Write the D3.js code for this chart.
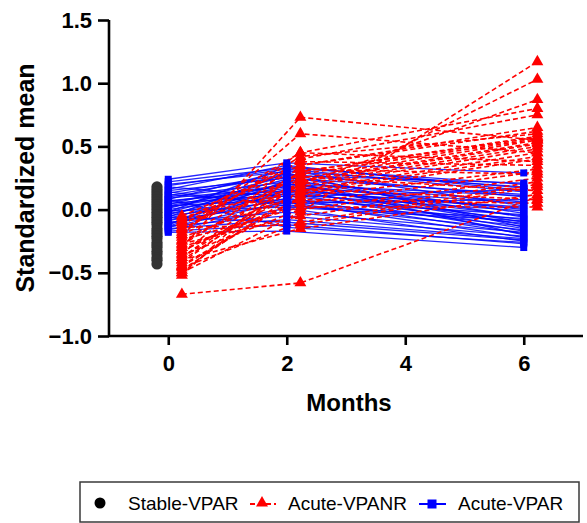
<!DOCTYPE html>
<html><head><meta charset="utf-8">
<script src="https://cdn.jsdelivr.net/npm/d3@7"></script>
<style>body{margin:0;background:#fff}svg{display:block}text{font-family:Arial,"Liberation Sans",sans-serif}</style>
</head><body><div id="chart"></div>
<script>
// ---------- data ----------
const months = [0, 2, 6];
const xTicks = [0, 2, 4, 6];
const yTicks = [-1.0, -0.5, 0.0, 0.5, 1.0, 1.5];
const seriesNames = ["Stable-VPAR", "Acute-VPANR", "Acute-VPAR"];

// Stable-VPAR: single time point (month 0)
const stableVPAR = [0.18, 0.16, 0.14, 0.12, 0.10, 0.08, 0.06, 0.04, 0.02, 0.00, -0.02, -0.04, -0.06,
  -0.08, -0.10, -0.12, -0.15, -0.17, -0.19, -0.21, -0.23, -0.26, -0.28, -0.30, -0.33, -0.35, -0.38, -0.40, -0.43];

// Acute-VPANR subjects: values at months 0, 2, 6
const acuteVPANR = [
  [-0.67, -0.58, 0.10], [-0.50, -0.02, 1.17], [-0.45, 0.10, 1.03], [-0.40, 0.20, 0.87],
  [-0.30, 0.73, 0.55], [-0.20, 0.60, 0.45], [-0.10, 0.45, 0.80], [-0.35, 0.40, 0.75],
  [-0.52, 0.35, 0.65], [-0.28, 0.30, 0.58], [-0.15, 0.28, 0.56], [-0.42, 0.25, 0.55],
  [-0.38, 0.22, 0.52], [-0.25, 0.20, 0.50], [-0.06, 0.18, 0.48], [-0.48, 0.15, 0.45],
  [-0.33, 0.14, 0.42], [-0.22, 0.12, 0.40], [-0.18, 0.45, 0.38], [-0.12, 0.38, 0.35],
  [-0.44, 0.10, 0.32], [-0.30, 0.05, 0.30], [-0.08, 0.32, 0.28], [-0.36, 0.00, 0.25],
  [-0.27, -0.05, 0.22], [-0.46, -0.10, 0.20], [-0.14, -0.12, 0.18], [-0.20, 0.26, 0.15],
  [-0.40, -0.15, 0.12], [-0.10, 0.16, 0.08], [-0.32, 0.08, 0.05], [-0.24, 0.02, 0.02],
  [-0.16, 0.42, 0.60], [-0.05, 0.35, 0.62], [-0.38, 0.30, 0.57], [-0.50, 0.23, 0.53]
];

// Acute-VPAR subjects: values at months 0, 2, 6
const acuteVPAR = [
  [0.24, 0.37, 0.29], [0.22, 0.33, 0.20], [0.20, 0.30, 0.18], [0.18, 0.10, 0.16],
  [0.16, 0.35, 0.15], [0.15, 0.25, 0.12], [0.13, 0.28, 0.10], [0.12, 0.05, 0.08],
  [0.10, 0.22, 0.06], [0.09, 0.18, 0.05], [0.08, 0.31, 0.03], [0.07, 0.15, 0.02],
  [0.06, 0.20, 0.00], [0.05, 0.12, -0.01], [0.04, 0.26, -0.03], [0.03, 0.08, -0.04],
  [0.02, 0.17, -0.05], [0.01, 0.24, -0.06], [0.00, 0.14, -0.08], [-0.01, 0.02, -0.09],
  [-0.02, 0.21, -0.10], [-0.03, 0.11, -0.11], [-0.04, 0.19, -0.12], [-0.05, 0.07, -0.13],
  [-0.06, 0.29, -0.14], [-0.07, 0.16, -0.15], [-0.08, 0.04, -0.16], [-0.09, 0.13, -0.17],
  [-0.10, -0.02, -0.18], [-0.11, 0.09, -0.19], [-0.12, 0.23, -0.20], [-0.13, -0.05, -0.21],
  [-0.14, 0.06, -0.22], [-0.15, -0.08, -0.23], [-0.16, 0.01, -0.25], [-0.17, -0.12, -0.27],
  [-0.18, -0.17, -0.30], [0.11, 0.27, 0.21], [0.19, 0.32, 0.14], [-0.02, 0.34, 0.17],
  [0.14, 0.03, -0.07], [-0.06, -0.10, -0.24], [0.03, 0.20, 0.11], [0.08, -0.14, -0.26],
  [-0.13, 0.15, 0.01]
];

// ---------- chart ----------
const W = 587, H = 523;
const RED = "#ff0000", BLUE = "#0000ff", GRAY = "#333333";
const svg = d3.select("#chart").append("svg").attr("width", W).attr("height", H);

const x = d3.scaleLinear().domain([-1, 7]).range([109, 583]);
const y = d3.scaleLinear().domain([-1, 1.5]).range([336, 20]);

// dodge offsets (in months) so groups sit side by side
const dodge = {stable: -0.19, vpar: 0, vpanr: 0.23};

const plot = svg.append("g");

// Acute-VPAR (blue) lines
const line = d3.line();
plot.append("g").selectAll("path").data(acuteVPAR).join("path")
  .attr("d", d => line(d.map((v, i) => [x(months[i] + dodge.vpar), y(v)])))
  .attr("fill", "none").attr("stroke", BLUE).attr("stroke-width", 1.3).attr("stroke-opacity", 0.85);

// Acute-VPANR (red) dashed lines
plot.append("g").selectAll("path").data(acuteVPANR).join("path")
  .attr("d", d => line(d.map((v, i) => [x(months[i] + dodge.vpanr), y(v)])))
  .attr("fill", "none").attr("stroke", RED).attr("stroke-width", 1.6).attr("stroke-dasharray", "5,3");

// blue squares
const sq = 7;
plot.append("g").selectAll("rect")
  .data(acuteVPAR.flatMap(d => d.map((v, i) => ({m: months[i], v}))))
  .join("rect")
  .attr("x", d => x(d.m + dodge.vpar) - sq / 2).attr("y", d => y(d.v) - sq / 2)
  .attr("width", sq).attr("height", sq).attr("fill", BLUE);

// red triangles
const tri = d3.symbol().type(d3.symbolTriangle).size(62);
plot.append("g").selectAll("path")
  .data(acuteVPANR.flatMap(d => d.map((v, i) => ({m: months[i], v}))))
  .join("path")
  .attr("transform", d => `translate(${x(d.m + dodge.vpanr)},${y(d.v)})`)
  .attr("d", tri).attr("fill", RED);

// stable gray circles
plot.append("g").selectAll("circle").data(stableVPAR).join("circle")
  .attr("cx", x(0 + dodge.stable)).attr("cy", d => y(d)).attr("r", 5.6).attr("fill", GRAY);

// ---------- axes ----------
const axisG = svg.append("g");
const yAxis = axisG.append("g").attr("transform", `translate(${x(-1)},0)`)
  .call(d3.axisLeft(y).tickValues(yTicks).tickFormat(d3.format(".1f")).tickSize(11).tickPadding(6));
const xAxis = axisG.append("g").attr("transform", `translate(0,${y(-1)})`)
  .call(d3.axisBottom(x).tickValues(xTicks).tickFormat(d3.format("d")).tickSize(9).tickPadding(10));
[yAxis, xAxis].forEach(a => {
  a.select(".domain").attr("stroke", "#000").attr("stroke-width", 2.6);
  a.selectAll(".tick line").attr("stroke", "#000").attr("stroke-width", 2.6);
  a.selectAll(".tick text").attr("fill", "#000").attr("font-size", 22).attr("font-weight", "bold")
    .attr("font-family", "Arial, 'Liberation Sans', sans-serif");
});
// extend x-axis domain to the left so it meets the y-axis outer tick
xAxis.select(".domain").attr("d", `M${x(-1)},0H${x(7)}`);
yAxis.select(".domain").attr("d", `M0,${y(1.5)}V${y(-1)}`);

svg.append("text").attr("x", (x(0) + x(6)) / 2 + 3).attr("y", 411).attr("text-anchor", "middle")
  .attr("font-size", 24).attr("font-weight", "bold").text("Months");
svg.append("text").attr("transform", `translate(34,${178}) rotate(-90)`).attr("text-anchor", "middle")
  .attr("font-size", 25).attr("font-weight", "bold").text("Standardized mean");

// ---------- legend ----------
const lg = svg.append("g");
lg.append("rect").attr("x", 80).attr("y", 482).attr("width", 499).attr("height", 40)
  .attr("fill", "none").attr("stroke", "#3a3a3a").attr("stroke-width", 1.5);
const ly = 503;
lg.append("circle").attr("cx", 100).attr("cy", ly).attr("r", 5.5).attr("fill", "#000");
lg.append("text").attr("x", 128).attr("y", ly).attr("dy", "0.35em").attr("font-size", 19).text(seriesNames[0]);
lg.append("line").attr("x1", 250).attr("x2", 276).attr("y1", ly + 1).attr("y2", ly + 1)
  .attr("stroke", RED).attr("stroke-width", 2).attr("stroke-dasharray", "5,3");
lg.append("path").attr("transform", `translate(262,${ly})`).attr("d", tri).attr("fill", RED);
lg.append("text").attr("x", 288).attr("y", ly).attr("dy", "0.35em").attr("font-size", 19).text(seriesNames[1]);
lg.append("line").attr("x1", 419).attr("x2", 446).attr("y1", ly + 1).attr("y2", ly + 1)
  .attr("stroke", BLUE).attr("stroke-width", 2);
lg.append("rect").attr("x", 432 - 4.5).attr("y", ly + 1 - 4.5).attr("width", 9).attr("height", 9).attr("fill", BLUE);
lg.append("text").attr("x", 458).attr("y", ly).attr("dy", "0.35em").attr("font-size", 19).text(seriesNames[2]);
</script></body></html>
